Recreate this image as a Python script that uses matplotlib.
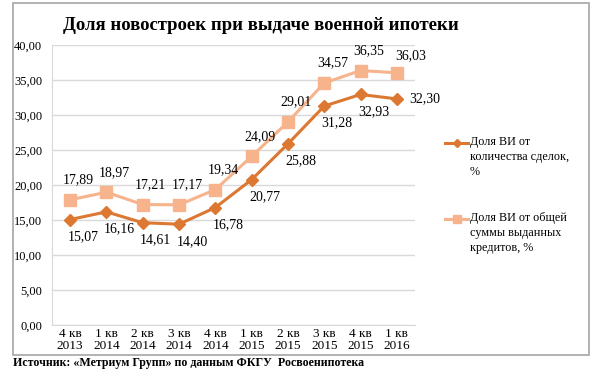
import matplotlib.pyplot as plt
from matplotlib.patches import Rectangle
from matplotlib.lines import Line2D

quarters = ['4 кв\n2013', '1 кв\n2014', '2 кв\n2014', '3 кв\n2014', '4 кв\n2014',
            '1 кв\n2015', '2 кв\n2015', '3 кв\n2015', '4 кв\n2015', '1 кв\n2016']
deals_share = [15.07, 16.16, 14.61, 14.40, 16.78, 20.77, 25.88, 31.28, 32.93, 32.30]
sum_share = [17.89, 18.97, 17.21, 17.17, 19.34, 24.09, 29.01, 34.57, 36.35, 36.03]
yticks = [0, 5, 10, 15, 20, 25, 30, 35, 40]

deals_label = 'Доля ВИ от\nколичества сделок,\n%'
sum_label = 'Доля ВИ от общей\nсуммы выданных\nкредитов, %'

DARK = '#DC7832'
LIGHT = '#F7B38C'

plt.rcParams['font.family'] = 'Liberation Serif'

W, H = 600, 377
fig = plt.figure(figsize=(W / 100, H / 100), dpi=100)


def fmt(v):
    return ('%.2f' % v).replace('.', ',')


# outer chart frame
fig.patches.append(Rectangle((13 / W, 1 - 355 / H), 576 / W, 352 / H,
                             transform=fig.transFigure, fill=False,
                             ec='#A6A6A6', lw=1.2))

ax = fig.add_axes([52 / W, 1 - 325 / H, 363 / W, 280 / H])
x = list(range(len(quarters)))

ax.plot(x, sum_share, color=LIGHT, lw=2.2, marker='s', ms=8, zorder=3)
ax.plot(x, deals_share, color=DARK, lw=2.2, marker='D', ms=6, zorder=4)

ax.set_xlim(-0.5, len(quarters) - 0.5)
ax.set_ylim(0, 40)
ax.set_yticks(yticks)
ax.set_yticklabels([fmt(v) for v in yticks])
ax.set_xticks(x)
ax.set_xticklabels(quarters, fontsize=9.5, linespacing=1.0)
ax.tick_params(axis='y', labelsize=9, length=0, pad=7)
ax.tick_params(axis='x', length=0, pad=2)
ax.grid(axis='y', color='#D9D9D9', lw=1)
ax.set_axisbelow(True)
for s in ['top', 'right']:
    ax.spines[s].set_visible(False)
ax.spines['left'].set_color('#D9D9D9')
ax.spines['bottom'].set_color('#D9D9D9')

# data labels
for i, v in enumerate(sum_share):
    dx, dy = (8, 20) if i < 9 else (14, 17)
    ax.annotate(fmt(v), (i, v), xytext=(dx, dy), textcoords='offset pixels',
                ha='center', va='center', fontsize=10)
for i, v in enumerate(deals_share):
    dx, dy = (13, -17) if i < 9 else (28, 0)
    ax.annotate(fmt(v), (i, v), xytext=(dx, dy), textcoords='offset pixels',
                ha='center', va='center', fontsize=10)

fig.text(261 / W, 1 - 25 / H, 'Доля новостроек при выдаче военной ипотеки',
         ha='center', va='center', fontsize=13.5, fontweight='bold')

# legend drawn by hand to match the layout
for y, col, mk, ms, lab in [(143, DARK, 'D', 4, deals_label),
                            (219, LIGHT, 's', 6, sum_label)]:
    fig.add_artist(Line2D([445 / W, 468 / W], [1 - y / H] * 2, color=col, lw=2.2,
                          transform=fig.transFigure))
    fig.add_artist(Line2D([456.5 / W], [1 - y / H], color=col, marker=mk, ms=ms,
                          transform=fig.transFigure))
    fig.text(470 / W, 1 - (y - 7) / H, lab, ha='left', va='top', fontsize=8.7,
             linespacing=1.35)

fig.text(13 / W, 1 - 363 / H, 'Источник: «Метриум Групп» по данным ФКГУ  Росвоенипотека',
         ha='left', va='center', fontsize=8.6, fontweight='bold')

fig.savefig('out.png', dpi=100)
